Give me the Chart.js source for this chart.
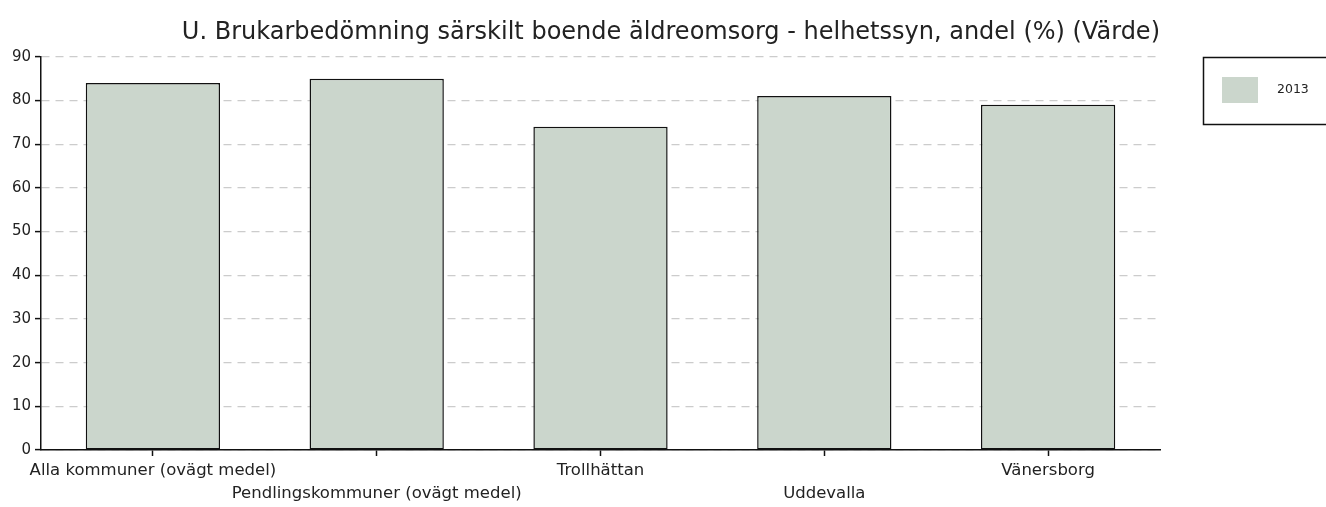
<!DOCTYPE html>
<html>
<head>
<meta charset="utf-8">
<script src="https://cdn.jsdelivr.net/npm/chart.js@4/dist/chart.umd.min.js"></script>
<style>
  html, body { margin: 0; padding: 0; background: #fff; }
  #wrap { width: 1326px; height: 507px; }
</style>
</head>
<body>
<div id="wrap"><canvas id="chart"></canvas></div>
<script>
const categories = [
  ['Alla kommuner (ovägt medel)'],
  ['', 'Pendlingskommuner (ovägt medel)'],
  ['Trollhättan'],
  ['', 'Uddevalla'],
  ['Vänersborg']
];
const seriesLabel = '2013';
const values2013 = [84, 85, 74, 81, 79];
const yTicks = [0, 10, 20, 30, 40, 50, 60, 70, 80, 90];

const FONT = '"DejaVu Sans", sans-serif';
const BAR_FILL = '#cbd6cc';

// legend drawn by hand: framed box with one swatch to the right of the plot
const boxLegend = {
  id: 'boxLegend',
  afterDraw(chart) {
    const ctx = chart.ctx;
    const ds = chart.data.datasets[0];
    ctx.save();
    ctx.strokeStyle = '#111';
    ctx.lineWidth = 1.5;
    ctx.strokeRect(1203.5, 57.5, 130, 67);
    ctx.fillStyle = ds.backgroundColor;
    ctx.fillRect(1222, 77, 36, 26);
    ctx.fillStyle = '#222';
    ctx.font = '12.5px ' + FONT;
    ctx.textBaseline = 'middle';
    ctx.fillText(ds.label, 1277, 90);
    ctx.restore();
  }
};

new Chart(document.getElementById('chart'), {
  type: 'bar',
  data: {
    labels: categories,
    datasets: [{
      label: seriesLabel,
      data: values2013,
      backgroundColor: BAR_FILL,
      borderColor: '#111',
      borderWidth: 1.5,
      borderSkipped: false,
      categoryPercentage: 1,
      barPercentage: 0.6
    }]
  },
  options: {
    responsive: true,
    maintainAspectRatio: false,
    animation: false,
    layout: { padding: { left: 0, right: 166, top: 0, bottom: 0 } },
    plugins: {
      legend: { display: false },
      tooltip: { enabled: false },
      title: {
        display: true,
        align: 'end',
        text: 'U. Brukarbedömning särskilt boende äldreomsorg - helhetssyn, andel (%) (Värde)',
        color: '#222',
        font: { family: FONT, size: 24, weight: 'normal', lineHeight: 1.2 },
        padding: { top: 18, bottom: 10 }
      }
    },
    scales: {
      x: {
        offset: true,
        grid: {
          offset: false,
          drawOnChartArea: false,
          drawTicks: true,
          tickLength: 6,
          tickColor: '#111',
          tickWidth: 1.5
        },
        border: { display: true, color: '#111', width: 1.5 },
        ticks: {
          autoSkip: false,
          maxRotation: 0,
          minRotation: 0,
          padding: 4,
          color: '#222',
          font: { family: FONT, size: 16.5, lineHeight: 1.35 }
        },
        afterFit(scale) { scale.height = 57; }
      },
      y: {
        min: 0,
        max: 90,
        afterBuildTicks(scale) { scale.ticks = yTicks.map(v => ({ value: v })); },
        grid: {
          color: '#cccccc',
          lineWidth: 1.2,
          drawTicks: true,
          tickLength: 6,
          tickColor: '#111',
          tickWidth: 1.5,
          tickBorderDash: []
        },
        border: { display: true, color: '#111', width: 1.5, dash: [8, 6] },
        ticks: {
          padding: 4,
          color: '#222',
          font: { family: FONT, size: 15 }
        },
        afterFit(scale) { scale.width = 41; }
      }
    }
  },
  plugins: [boxLegend]
});
</script>
</body>
</html>
